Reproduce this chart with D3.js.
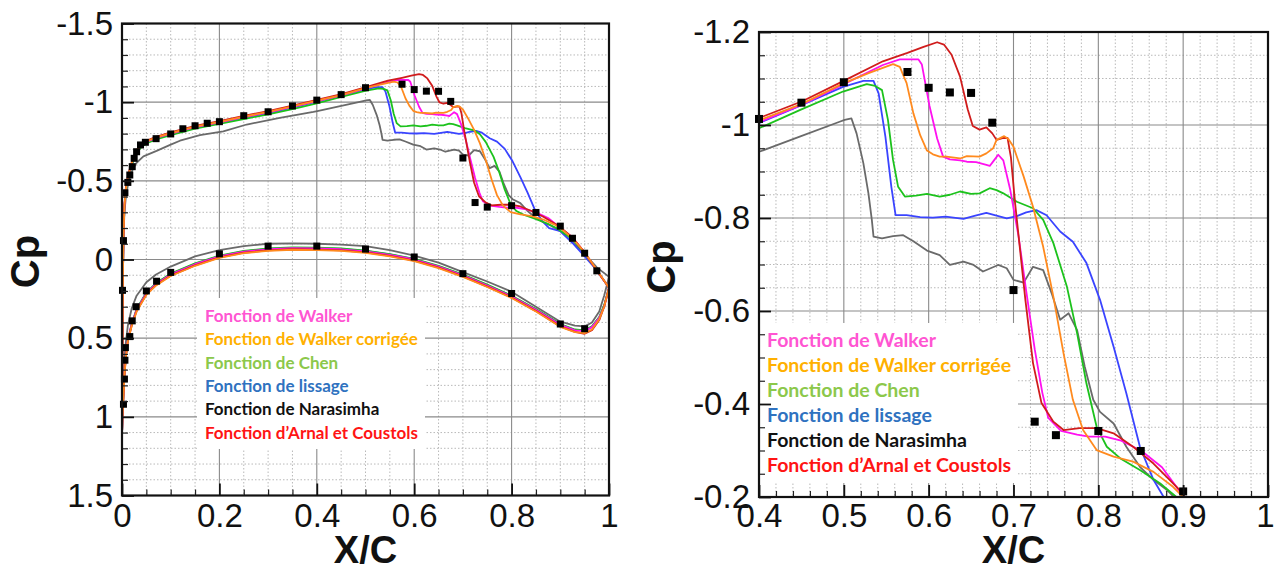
<!DOCTYPE html>
<html><head><meta charset="utf-8">
<script src="https://cdn.jsdelivr.net/npm/d3@7"></script>
<style>body{margin:0;background:#fff}svg{display:block}</style>
</head><body>
<svg id="chart" width="1274" height="570"></svg>
<script>
// ---------------- DATA ----------------
const seriesNames = ["Fonction de Walker","Fonction de Walker corrigée","Fonction de Chen","Fonction de lissage","Fonction de Narasimha","Fonction d\u2019Arnal et Coustols"];

// upper surface [X/C, Cp]
const upperWalker = [[0,1.12],[0.001,0.55],[0.002,0.1],[0.003,-0.14],[0.005,-0.34],[0.008,-0.45],[0.012,-0.52],[0.018,-0.592],[0.025,-0.652],[0.032,-0.697],[0.04,-0.727],[0.05,-0.747],[0.07,-0.773],[0.1,-0.8],[0.15,-0.842],[0.2,-0.872],[0.25,-0.905],[0.3,-0.935],[0.35,-0.97],[0.4,-1.006],[0.45,-1.043],[0.5,-1.088],[0.546,-1.129],[0.566,-1.141],[0.588,-1.141],[0.592,-1.13],[0.601,-1.041],[0.61,-0.971],[0.617,-0.932],[0.625,-0.926],[0.637,-0.924],[0.645,-0.921],[0.656,-0.92],[0.668,-0.914],[0.672,-0.912],[0.677,-0.924],[0.682,-0.936],[0.688,-0.924],[0.696,-0.862],[0.706,-0.76],[0.715,-0.643],[0.725,-0.518],[0.734,-0.424],[0.741,-0.37],[0.756,-0.342],[0.775,-0.334],[0.789,-0.33],[0.808,-0.33],[0.827,-0.321],[0.851,-0.299],[0.875,-0.264],[0.894,-0.217],[0.925,-0.14],[0.95,-0.045],[0.975,0.07],[1.0,0.18]];
const upperWalkerCorr = [[0,1.12],[0.001,0.55],[0.002,0.1],[0.003,-0.14],[0.005,-0.34],[0.008,-0.45],[0.012,-0.52],[0.018,-0.595],[0.025,-0.655],[0.032,-0.7],[0.04,-0.73],[0.05,-0.75],[0.07,-0.776],[0.1,-0.803],[0.15,-0.845],[0.2,-0.875],[0.25,-0.908],[0.3,-0.938],[0.35,-0.973],[0.4,-1.01],[0.45,-1.045],[0.5,-1.09],[0.53,-1.112],[0.558,-1.131],[0.566,-1.125],[0.574,-1.09],[0.582,-1.025],[0.59,-0.978],[0.598,-0.945],[0.605,-0.937],[0.613,-0.932],[0.621,-0.932],[0.637,-0.928],[0.645,-0.933],[0.66,-0.932],[0.668,-0.939],[0.676,-0.95],[0.68,-0.968],[0.689,-0.976],[0.694,-0.97],[0.7,-0.953],[0.712,-0.889],[0.723,-0.824],[0.735,-0.738],[0.747,-0.631],[0.759,-0.509],[0.77,-0.409],[0.782,-0.344],[0.798,-0.301],[0.818,-0.287],[0.841,-0.276],[0.865,-0.254],[0.888,-0.222],[0.9,-0.2],[0.925,-0.135],[0.95,-0.045],[0.975,0.065],[1.0,0.18]];
const upperChen = [[0,1.12],[0.001,0.55],[0.002,0.1],[0.003,-0.13],[0.005,-0.33],[0.008,-0.44],[0.012,-0.51],[0.018,-0.58],[0.025,-0.64],[0.032,-0.685],[0.04,-0.715],[0.05,-0.737],[0.07,-0.763],[0.1,-0.79],[0.15,-0.832],[0.2,-0.862],[0.25,-0.893],[0.3,-0.922],[0.35,-0.956],[0.4,-0.993],[0.448,-1.032],[0.499,-1.072],[0.527,-1.088],[0.537,-1.084],[0.545,-1.075],[0.552,-1.011],[0.558,-0.925],[0.564,-0.867],[0.572,-0.846],[0.585,-0.848],[0.598,-0.852],[0.613,-0.846],[0.625,-0.85],[0.637,-0.857],[0.65,-0.852],[0.66,-0.853],[0.672,-0.864],[0.68,-0.86],[0.688,-0.853],[0.704,-0.835],[0.723,-0.821],[0.735,-0.796],[0.747,-0.746],[0.763,-0.652],[0.775,-0.552],[0.786,-0.444],[0.798,-0.351],[0.81,-0.308],[0.826,-0.283],[0.849,-0.258],[0.873,-0.229],[0.892,-0.2],[0.925,-0.13],[0.95,-0.04],[0.975,0.07],[1.0,0.18]];
const upperLissage = [[0,1.12],[0.001,0.55],[0.002,0.1],[0.003,-0.135],[0.005,-0.335],[0.008,-0.445],[0.012,-0.515],[0.018,-0.587],[0.025,-0.647],[0.032,-0.692],[0.04,-0.722],[0.05,-0.743],[0.07,-0.77],[0.1,-0.797],[0.15,-0.839],[0.2,-0.869],[0.25,-0.901],[0.3,-0.931],[0.35,-0.966],[0.4,-1.004],[0.448,-1.041],[0.499,-1.082],[0.523,-1.095],[0.535,-1.095],[0.541,-1.068],[0.549,-0.975],[0.556,-0.867],[0.561,-0.806],[0.574,-0.806],[0.59,-0.802],[0.605,-0.801],[0.62,-0.803],[0.641,-0.798],[0.655,-0.805],[0.668,-0.811],[0.68,-0.805],[0.692,-0.799],[0.704,-0.804],[0.715,-0.812],[0.727,-0.817],[0.739,-0.806],[0.755,-0.771],[0.77,-0.749],[0.786,-0.703],[0.802,-0.624],[0.818,-0.523],[0.833,-0.423],[0.849,-0.308],[0.865,-0.237],[0.877,-0.2],[0.9,-0.18],[0.925,-0.105],[0.95,-0.02],[0.975,0.067],[1.0,0.18]];
const upperNarasimha = [[0,1.12],[0.001,0.55],[0.002,0.1],[0.003,-0.13],[0.005,-0.3],[0.008,-0.4],[0.012,-0.47],[0.018,-0.54],[0.023,-0.58],[0.03,-0.615],[0.044,-0.655],[0.071,-0.69],[0.1,-0.73],[0.119,-0.755],[0.16,-0.79],[0.208,-0.815],[0.256,-0.858],[0.324,-0.9],[0.393,-0.938],[0.401,-0.943],[0.448,-0.975],[0.495,-1.007],[0.501,-1.011],[0.509,-1.014],[0.515,-0.982],[0.523,-0.918],[0.529,-0.853],[0.533,-0.796],[0.535,-0.76],[0.545,-0.756],[0.558,-0.761],[0.57,-0.763],[0.582,-0.75],[0.598,-0.73],[0.613,-0.72],[0.625,-0.699],[0.641,-0.706],[0.653,-0.699],[0.664,-0.685],[0.682,-0.699],[0.692,-0.692],[0.7,-0.667],[0.712,-0.661],[0.723,-0.695],[0.735,-0.688],[0.745,-0.638],[0.755,-0.581],[0.765,-0.595],[0.775,-0.559],[0.784,-0.48],[0.794,-0.409],[0.802,-0.383],[0.818,-0.358],[0.833,-0.308],[0.849,-0.265],[0.865,-0.237],[0.881,-0.215],[0.9,-0.18],[0.925,-0.11],[0.95,-0.035],[0.975,0.05],[1.0,0.11]];
const upperArnal = [[0,1.12],[0.001,0.55],[0.002,0.1],[0.003,-0.15],[0.005,-0.35],[0.008,-0.46],[0.012,-0.53],[0.018,-0.6],[0.025,-0.66],[0.032,-0.705],[0.04,-0.735],[0.05,-0.755],[0.07,-0.78],[0.1,-0.808],[0.15,-0.85],[0.2,-0.88],[0.25,-0.913],[0.3,-0.943],[0.35,-0.978],[0.4,-1.015],[0.451,-1.051],[0.501,-1.096],[0.546,-1.137],[0.575,-1.155],[0.594,-1.168],[0.61,-1.178],[0.618,-1.173],[0.627,-1.151],[0.637,-1.104],[0.646,-1.034],[0.652,-0.998],[0.66,-0.99],[0.668,-0.995],[0.675,-0.982],[0.68,-0.968],[0.687,-0.972],[0.693,-0.972],[0.697,-0.93],[0.702,-0.83],[0.714,-0.624],[0.723,-0.488],[0.733,-0.402],[0.747,-0.362],[0.759,-0.344],[0.778,-0.348],[0.798,-0.348],[0.818,-0.337],[0.841,-0.308],[0.865,-0.272],[0.896,-0.215],[0.925,-0.14],[0.95,-0.045],[0.975,0.07],[1.0,0.18]];

// lower surface [X/C, Cp]
const lowerWalker = [[0,1.12],[0.001,1.0],[0.003,0.86],[0.005,0.73],[0.008,0.61],[0.012,0.51],[0.02,0.41],[0.03,0.32],[0.05,0.215],[0.07,0.155],[0.1,0.095],[0.15,0.03],[0.2,-0.02],[0.25,-0.05],[0.3,-0.065],[0.35,-0.072],[0.4,-0.07],[0.45,-0.065],[0.5,-0.052],[0.55,-0.03],[0.6,0.0],[0.65,0.045],[0.7,0.1],[0.75,0.165],[0.8,0.235],[0.85,0.32],[0.9,0.415],[0.93,0.45],[0.95,0.455],[0.965,0.43],[0.98,0.37],[0.99,0.3],[1.0,0.18]];
const lowerWalkerCorr = [[0,1.12],[0.001,1.0],[0.003,0.87],[0.005,0.74],[0.008,0.62],[0.012,0.52],[0.02,0.42],[0.03,0.33],[0.05,0.225],[0.07,0.165],[0.1,0.105],[0.15,0.04],[0.2,-0.01],[0.25,-0.04],[0.3,-0.055],[0.35,-0.062],[0.4,-0.06],[0.45,-0.055],[0.5,-0.042],[0.55,-0.02],[0.6,0.01],[0.65,0.055],[0.7,0.11],[0.75,0.175],[0.8,0.245],[0.85,0.33],[0.9,0.428],[0.93,0.462],[0.95,0.468],[0.965,0.445],[0.98,0.38],[0.99,0.3],[1.0,0.18]];
const lowerChen = [[0,1.12],[0.001,1.0],[0.003,0.86],[0.005,0.73],[0.008,0.61],[0.012,0.51],[0.02,0.41],[0.03,0.315],[0.05,0.21],[0.07,0.15],[0.1,0.09],[0.15,0.025],[0.2,-0.025],[0.25,-0.055],[0.3,-0.07],[0.35,-0.077],[0.4,-0.075],[0.45,-0.07],[0.5,-0.056],[0.55,-0.034],[0.6,-0.004],[0.65,0.04],[0.7,0.096],[0.75,0.16],[0.8,0.23],[0.85,0.315],[0.9,0.41],[0.93,0.445],[0.95,0.45],[0.965,0.425],[0.98,0.365],[0.99,0.29],[1.0,0.18]];
const lowerLissage = [[0,1.12],[0.001,1.0],[0.003,0.86],[0.005,0.73],[0.008,0.61],[0.012,0.51],[0.02,0.41],[0.03,0.318],[0.05,0.212],[0.07,0.152],[0.1,0.092],[0.15,0.028],[0.2,-0.022],[0.25,-0.052],[0.3,-0.067],[0.35,-0.074],[0.4,-0.072],[0.45,-0.067],[0.5,-0.054],[0.55,-0.032],[0.6,-0.002],[0.65,0.043],[0.7,0.098],[0.75,0.162],[0.8,0.232],[0.85,0.318],[0.9,0.412],[0.93,0.448],[0.95,0.452],[0.965,0.428],[0.98,0.368],[0.99,0.295],[1.0,0.18]];
const lowerNarasimha = [[0,1.12],[0.002,0.9],[0.004,0.7],[0.007,0.55],[0.012,0.42],[0.02,0.31],[0.03,0.23],[0.05,0.145],[0.07,0.095],[0.1,0.045],[0.15,-0.02],[0.2,-0.06],[0.25,-0.085],[0.3,-0.1],[0.35,-0.103],[0.4,-0.1],[0.45,-0.095],[0.5,-0.085],[0.55,-0.06],[0.6,-0.025],[0.65,0.02],[0.7,0.08],[0.75,0.14],[0.8,0.205],[0.85,0.3],[0.9,0.395],[0.93,0.42],[0.95,0.425],[0.965,0.4],[0.98,0.33],[0.99,0.23],[1.0,0.11]];
const lowerArnal = [[0,1.12],[0.001,1.0],[0.003,0.87],[0.005,0.74],[0.008,0.62],[0.012,0.52],[0.02,0.42],[0.03,0.328],[0.05,0.222],[0.07,0.162],[0.1,0.102],[0.15,0.037],[0.2,-0.013],[0.25,-0.043],[0.3,-0.058],[0.35,-0.065],[0.4,-0.063],[0.45,-0.058],[0.5,-0.045],[0.55,-0.023],[0.6,0.007],[0.65,0.052],[0.7,0.107],[0.75,0.172],[0.8,0.242],[0.85,0.328],[0.9,0.425],[0.93,0.46],[0.95,0.472],[0.965,0.45],[0.98,0.385],[0.99,0.3],[1.0,0.18]];

// experimental points
const expUpper = [[0.003,-0.12],[0.006,-0.424],[0.012,-0.49],[0.016,-0.537],[0.021,-0.59],[0.025,-0.643],[0.03,-0.685],[0.038,-0.728],[0.048,-0.745],[0.07,-0.768],[0.1,-0.798],[0.125,-0.831],[0.15,-0.85],[0.175,-0.866],[0.2,-0.876],[0.25,-0.914],[0.3,-0.939],[0.35,-0.976],[0.4,-1.013],[0.45,-1.048],[0.5,-1.092],[0.575,-1.114],[0.6,-1.08],[0.625,-1.07],[0.65,-1.069],[0.675,-1.005],[0.7,-0.645],[0.725,-0.362],[0.75,-0.333],[0.8,-0.342],[0.85,-0.299],[0.9,-0.212],[0.925,-0.135],[0.95,-0.04],[0.975,0.072]];
const expLower = [[0.001,0.196],[0.003,0.92],[0.005,0.76],[0.006,0.64],[0.007,0.56],[0.016,0.49],[0.021,0.39],[0.029,0.3],[0.05,0.2],[0.071,0.138],[0.1,0.082],[0.2,-0.036],[0.3,-0.085],[0.4,-0.085],[0.5,-0.066],[0.6,-0.016],[0.7,0.09],[0.8,0.216],[0.9,0.41],[0.95,0.44]];

// ticks
const leftXTicks = [0,0.2,0.4,0.6,0.8,1];
const leftXLabels = ["0","0.2","0.4","0.6","0.8","1"];
const leftYTicks = [-1.5,-1,-0.5,0,0.5,1,1.5];
const leftYLabels = ["-1.5","-1","-0.5","0","0.5","1","1.5"];
const rightXTicks = [0.4,0.5,0.6,0.7,0.8,0.9,1];
const rightXLabels = ["0.4","0.5","0.6","0.7","0.8","0.9","1"];
const rightYTicks = [-1.2,-1,-0.8,-0.6,-0.4,-0.2];
const rightYLabels = ["-1.2","-1","-0.8","-0.6","-0.4","-0.2"];

// ---------------- STYLE ----------------
const lineColors = ["#ff10f0","#ff8a1e","#1cc21c","#3a44ff","#6a6a6a","#d01c1c"];
const legendColors = ["#ff55d2","#ffb000","#8cc84b","#2f72c0","#111111","#ff1414"];
const series = [
  {name:seriesNames[4], color:lineColors[4], upper:upperNarasimha, lower:lowerNarasimha},
  {name:seriesNames[3], color:lineColors[3], upper:upperLissage, lower:lowerLissage},
  {name:seriesNames[2], color:lineColors[2], upper:upperChen, lower:lowerChen},
  {name:seriesNames[0], color:lineColors[0], upper:upperWalker, lower:lowerWalker},
  {name:seriesNames[5], color:lineColors[5], upper:upperArnal, lower:lowerArnal},
  {name:seriesNames[1], color:lineColors[1], upper:upperWalkerCorr, lower:lowerWalkerCorr}
];

const svg = d3.select("#chart");
const FONT = "'Liberation Sans', Arial, sans-serif";

function panel(p, id) {
  const x = d3.scaleLinear().domain(p.xDomain).range([p.x0, p.x1]);
  const y = d3.scaleLinear().domain(p.yDomain).range([p.y0, p.y1]);
  const g = svg.append("g");
  const near = (v, arr) => arr.some(t => Math.abs(t - v) < 1e-6);
  const xMinor = d3.range(p.xDomain[0], p.xDomain[1] + 1e-9, p.xMinorStep).map(v => +v.toFixed(4)).filter(v => !near(v, p.xTicks));
  const yMinor = d3.range(p.yDomain[0], p.yDomain[1] + 1e-9, p.yMinorStep).map(v => +v.toFixed(4)).filter(v => !near(v, p.yTicks));

  // minor grid
  const grid = g.append("g");
  grid.selectAll("line.vx").data(xMinor).join("line").attr("class","vx")
    .attr("x1", d => x(d)).attr("x2", d => x(d)).attr("y1", p.y0).attr("y2", p.y1);
  grid.selectAll("line.hy").data(yMinor).join("line").attr("class","hy")
    .attr("y1", d => y(d)).attr("y2", d => y(d)).attr("x1", p.x0).attr("x2", p.x1);
  grid.selectAll("line").attr("stroke", "#b9b9b9").attr("stroke-width", 1).attr("stroke-dasharray", "1.5,2");
  // major grid
  const mg = g.append("g");
  mg.selectAll("line.vx").data(p.xTicks.filter(v => v > p.xDomain[0] && v < p.xDomain[1])).join("line").attr("class","vx")
    .attr("x1", d => x(d)).attr("x2", d => x(d)).attr("y1", p.y0).attr("y2", p.y1);
  mg.selectAll("line.hy").data(p.yTicks.filter(v => v > p.yDomain[0] && v < p.yDomain[1])).join("line").attr("class","hy")
    .attr("y1", d => y(d)).attr("y2", d => y(d)).attr("x1", p.x0).attr("x2", p.x1);
  mg.selectAll("line").attr("stroke", "#8a8a8a").attr("stroke-width", 1.1);

  // legend box
  g.append("rect").attr("x", p.legend.x).attr("y", p.legend.y).attr("width", p.legend.w).attr("height", p.legend.h).attr("fill", "#fff");
  const lg = g.append("g");
  seriesNames.forEach((n, i) => {
    lg.append("text").attr("x", p.legend.x + p.legend.tx).attr("y", p.legend.y + p.legend.ty + i * p.legend.dy)
      .attr("font-family", "Lato, 'Open Sans', sans-serif").attr("font-weight", "bold").attr("font-size", p.legend.fs)
      .attr("fill", legendColors[i]).text(n);
  });

  // clip
  svg.append("clipPath").attr("id", id).append("rect").attr("x", p.x0).attr("y", p.y0).attr("width", p.x1 - p.x0).attr("height", p.y1 - p.y0);
  const lines = g.append("g").attr("clip-path", `url(#${id})`);
  const line = d3.line().x(d => x(d[0])).y(d => y(d[1]));
  series.forEach(s => {
    [s.lower, s.upper].forEach(arr => {
      lines.append("path").attr("d", line(arr)).attr("fill", "none").attr("stroke", s.color)
        .attr("stroke-width", p.lw).attr("stroke-linejoin", "round");
    });
  });

  // experimental points
  const pts = expUpper.concat(expLower).filter(d => d[0] >= p.xDomain[0] - 1e-6 && d[0] <= p.xDomain[1] && d[1] >= p.yDomain[0] - 0.02 && d[1] <= p.yDomain[1]);
  g.append("g").selectAll("rect").data(pts).join("rect")
    .attr("x", d => x(d[0]) - p.ms / 2).attr("y", d => y(d[1]) - p.ms / 2)
    .attr("width", p.ms).attr("height", p.ms).attr("fill", "#000");

  // axes: minor ticks (inward)
  g.append("g").attr("transform", `translate(0,${p.y1})`)
    .call(d3.axisBottom(x).tickValues(xMinor).tickSize(-6).tickFormat(""))
    .call(a => a.select(".domain").remove()).selectAll("line").attr("stroke", "#222").attr("stroke-width", 1.2);
  g.append("g").attr("transform", `translate(${p.x0},0)`)
    .call(d3.axisLeft(y).tickValues(yMinor).tickSize(-6).tickFormat(""))
    .call(a => a.select(".domain").remove()).selectAll("line").attr("stroke", "#222").attr("stroke-width", 1.2);
  // major ticks + labels
  const xa = g.append("g").attr("transform", `translate(0,${p.y1})`)
    .call(d3.axisBottom(x).tickValues(p.xTicks).tickSize(-12).tickPadding(p.xPad).tickFormat((d, i) => p.xLabels[i]));
  const ya = g.append("g").attr("transform", `translate(${p.x0},0)`)
    .call(d3.axisLeft(y).tickValues(p.yTicks).tickSize(-12).tickPadding(9).tickFormat((d, i) => p.yLabels[i]));
  [xa, ya].forEach(a => {
    a.select(".domain").remove();
    a.selectAll("line").attr("stroke", "#111").attr("stroke-width", 1.8);
    a.selectAll("text").attr("font-family", FONT).attr("font-size", 33).attr("fill", "#111");
  });
  // keep the last x label inside the page
  if (p.lastXdx) xa.selectAll("text").filter((d, i) => i === p.xTicks.length - 1).attr("dx", p.lastXdx);

  // border
  g.append("rect").attr("x", p.x0).attr("y", p.y0).attr("width", p.x1 - p.x0).attr("height", p.y1 - p.y0)
    .attr("fill", "none").attr("stroke", "#111").attr("stroke-width", 2.2);

  // titles
  g.append("text").attr("transform", `translate(${p.cpX},${(p.y0 + p.y1) / 2 + p.cpDy}) rotate(-90)`)
    .attr("text-anchor", "middle").attr("font-family", FONT).attr("font-weight", "bold").attr("font-size", 40).attr("fill", "#111").text("Cp");
  g.append("text").attr("x", (p.x0 + p.x1) / 2).attr("y", 563)
    .attr("text-anchor", "middle").attr("font-family", FONT).attr("font-weight", "bold").attr("font-size", 38).attr("fill", "#111").text("X/C");
}

panel({
  xDomain:[0,1], yDomain:[-1.5,1.5], x0:122, x1:609, y0:23.5, y1:495.5,
  xTicks:leftXTicks, xLabels:leftXLabels, yTicks:leftYTicks, yLabels:leftYLabels,
  xMinorStep:0.05, yMinorStep:0.1, xPad:8, lw:1.8, ms:7, cpX:38.5, cpDy:2,
  legend:{x:197, y:298, w:228, h:151, tx:8, ty:24, dy:23.3, fs:17}
}, "clipL");

panel({
  xDomain:[0.4,1], yDomain:[-1.2,-0.2], x0:759, x1:1268, y0:32, y1:497,
  xTicks:rightXTicks, xLabels:rightXLabels, yTicks:rightYTicks, yLabels:rightYLabels,
  xMinorStep:0.02, yMinorStep:0.05, xPad:7, lw:1.8, ms:8, cpX:674.5, cpDy:2.5, lastXdx:-3,
  legend:{x:759, y:323, w:259, h:160, tx:8, ty:23.5, dy:25, fs:19.5}
}, "clipR");
</script>
</body></html>
